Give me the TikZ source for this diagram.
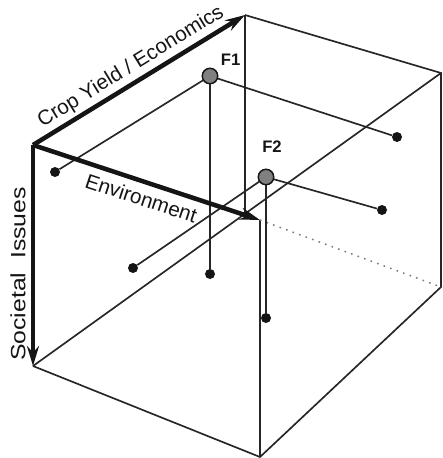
\documentclass[tikz,border=0pt]{standalone}
\usepackage{fontspec}
\setmainfont{Liberation Sans}
\usepackage{graphicx}
\usepackage{tikz}
\usepackage{xcolor}
\usetikzlibrary{arrows.meta,positioning,calc}
\definecolor{boxline}{HTML}{262626}
\definecolor{axisdark}{HTML}{151515}
\definecolor{facgrey}{HTML}{808080}
\definecolor{hidgrey}{HTML}{7A7A7A}

\begin{document}
\begin{tikzpicture}[x=0.75pt,y=-0.75pt,>=Stealth,
    edge/.style={boxline,line width=1.25pt},
    hidden/.style={hidgrey,line width=1.1pt,dash pattern=on 1.2pt off 4pt},
    axisarrow/.style={axisdark,line width=3.4pt,-{Stealth[length=15pt,width=9pt,inset=5pt]}},
    axislabel/.style={font=\fontsize{15.5}{18}\selectfont,text=axisdark,inner sep=1pt},
    endpt/.style={circle,fill=axisdark,inner sep=0pt,minimum size=7.5pt},
    factor/.style={circle,draw=axisdark,fill=facgrey,line width=1pt,inner sep=0pt,minimum size=11.5pt},
    flabel/.style={font=\bfseries\fontsize{12.5}{14}\selectfont,text=axisdark,inner sep=0pt}]
  \useasboundingbox (0,0) rectangle (443,458);
  % corners of the box
  \coordinate (O)  at (33,145);
  \coordinate (A)  at (245,15);
  \coordinate (E)  at (260,220);
  \coordinate (S)  at (33,366);
  \coordinate (TR) at (441,73);
  \coordinate (BR) at (441,287);
  \coordinate (BF) at (260,457);
  \coordinate (Ab) at (245,216);
  % box edges
  \draw[edge] (A) -- (TR) -- (BR) -- (BF) -- (S);
  \draw[edge] (E) -- (BF);
  \draw[edge] (A) -- (Ab);
  \draw[edge] (S) -- (TR);
  \draw[hidden] (E) -- (BR);
  % factors and their projections
  \node[factor] (F1) at (210,76) {};
  \node[factor] (F2) at (266,177) {};
  \foreach \nm/\px/\py in {f1l/55/172, f1r/397/137, f1d/210/274,
                           f2l/133/268, f2r/382/210, f2d/266/318}
    \node[endpt] (\nm) at (\px,\py) {};
  \draw[edge] (F1) -- (f1l);
  \draw[edge] (F1) -- (f1r);
  \draw[edge] (F1) -- (f1d);
  \draw[edge] (F2) -- (f2l);
  \draw[edge] (F2) -- (f2r);
  \draw[edge] (F2) -- (f2d);
  \node[factor] at (F1) {};
  \node[factor] at (F2) {};
  \node[flabel,above right=3pt and 3.5pt of F1] (F1lbl) {F1};
  \node[flabel,above=12pt of F2,xshift=4.5pt] (F2lbl) {F2};
  % the three axes
  \draw[axisarrow] (O) -- (A)
    node[axislabel,midway,sloped,above=1.5pt] (cropLbl) {Crop Yield / Economics};
  \draw[axisarrow] (O) -- (E)
    node[axislabel,midway,sloped,below=4pt] (envLbl) {Environment};
  \draw[axisarrow] (O) -- (S);
  \node[axislabel,rotate=90] (socLbl) at (18,274) {\scalebox{1.2}[1]{Societal\ \ Issues}};
\end{tikzpicture}
\end{document}
